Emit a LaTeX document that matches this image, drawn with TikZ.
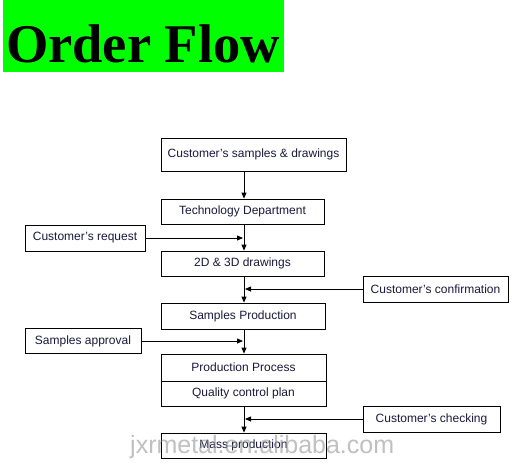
\documentclass[tikz,border=0pt]{standalone}
\usepackage{fontspec}
\setmainfont{Liberation Sans}
\newfontfamily\titlefont{Liberation Serif}
\usetikzlibrary{arrows.meta}
\definecolor{txt}{RGB}{25,25,60}
\definecolor{titlegreen}{RGB}{0,255,0}
\definecolor{wmgray}{RGB}{150,150,150}
\begin{document}
\begin{tikzpicture}[x=1pt,y=-1pt,
  box/.style={draw=black,line width=0.8pt,fill=white,text=txt,
    font=\fontsize{12}{14}\selectfont,inner sep=0pt,anchor=center},
  arr/.style={draw=black,line width=0.8pt,-{Triangle[length=6pt,width=5pt]}},
  wmark/.style={text=wmgray,opacity=0.6,font=\fontsize{25}{30}\selectfont,inner sep=0pt,anchor=base west}]
\useasboundingbox (0,0) rectangle (523,467);
\fill[white] (0,0) rectangle (523,467);
% title
\node[fill=titlegreen,minimum width=281pt,minimum height=72pt,inner sep=0pt,anchor=north west] (title) at (3,0) {};
\node[font=\titlefont\bfseries\fontsize{54.5}{60}\selectfont,inner sep=0pt,anchor=base] (titletext) at (143,62) {Order Flow};
% main column
\coordinate (spine) at (244,0);
\node[box,minimum width=185pt,minimum height=33pt] (b1) at (253.5,154.5) {Customer's samples \& drawings};
\node[box,minimum width=163pt,minimum height=25pt] (b2) at (242.5,211.5) {Technology Department};
\node[box,minimum width=163pt,minimum height=25pt] (b3) at (242.5,263.5) {2D \& 3D drawings};
\node[box,minimum width=164pt,minimum height=26pt] (b4) at (243,316) {Samples Production};
\node[box,minimum width=165pt,minimum height=27pt] (b5) at (243.5,367.5) {Production Process};
\node[box,minimum width=165pt,minimum height=25pt] (b6) at (243.5,393.5) {Quality control plan};
\node[box,minimum width=165pt,minimum height=25pt] (b7) at (243.5,445.5) {Mass production};
% side boxes
\node[box,minimum width=120pt,minimum height=26pt] (req) at (85,238) {Customer’s request};
\node[box,minimum width=145pt,minimum height=26pt] (conf) at (435.5,289) {Customer’s confirmation};
\node[box,minimum width=116pt,minimum height=25pt] (appr) at (83,341) {Samples approval};
\node[box,minimum width=137pt,minimum height=26pt] (chk) at (431.5,419) {Customer’s checking};
% join points on the spine
\coordinate (jreq) at (243,238);
\coordinate (jconf) at (245,289);
\coordinate (jappr) at (243,341);
\coordinate (jchk) at (245,419);
% connectors
\draw[arr] (b1.south -| spine) -- (b2.north -| spine);
\draw[arr] (b2.south -| spine) -- (b3.north -| spine);
\draw[arr] (b3.south -| spine) -- (b4.north -| spine);
\draw[arr] (b4.south -| spine) -- (b5.north -| spine);
\draw[arr] (b6.south -| spine) -- (b7.north -| spine);
\draw[arr] (req.east) -- (jreq);
\draw[arr] (conf.west) -- (jconf);
\draw[arr] (appr.east) -- (jappr);
\draw[arr] (chk.west) -- (jchk);
% watermark
\node[wmark] (wm) at (130,453) {jxrmetal.en.alibaba.com};
\end{tikzpicture}
\end{document}
